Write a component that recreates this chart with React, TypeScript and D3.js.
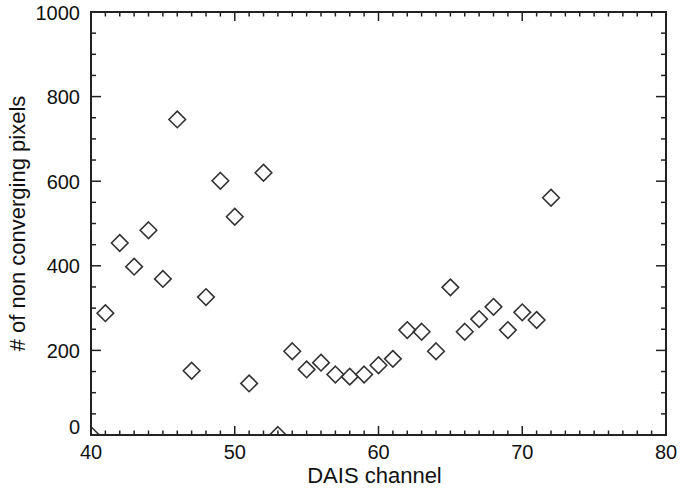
import React from "react";
import * as d3 from "d3";

const channels = [40, 41, 42, 43, 44, 45, 46, 47, 48, 49, 50, 51, 52, 53, 54, 55, 56, 57, 58, 59, 60, 61, 62, 63, 64, 65, 66, 67, 68, 69, 70, 71, 72];
const pixels = [0, 288, 454, 398, 484, 369, 746, 152, 326, 601, 516, 122, 620, 0, 198, 155, 171, 143, 138, 143, 165, 180, 248, 244, 198, 349, 244, 274, 303, 248, 290, 272, 561];
const xTicks = [40, 50, 60, 70, 80];
const yTicks = [0, 200, 400, 600, 800, 1000];

const W = 680, H = 491;
const L = 91, R = 666, T = 12, B = 435;

export default function App() {
  const x = d3.scaleLinear().domain([40, 80]).range([L, R]);
  const y = d3.scaleLinear().domain([0, 1000]).range([B, T]);
  const xMinor = d3.range(40, 81, 1).filter((v) => v % 10 !== 0);
  const yMinor = d3.range(0, 1001, 50).filter((v) => v % 200 !== 0);
  const font = "'Liberation Sans', Arial, sans-serif";
  const col = "#222";
  const s = 8.3;
  return (
    <svg width={W} height={H} style={{ position: "absolute", left: 0, top: 0, background: "#fff" }}>
      <defs>
        <clipPath id="plot">
          <rect x={L} y={T} width={R - L} height={B - T} />
        </clipPath>
      </defs>
      <g clipPath="url(#plot)">
        {channels.map((c, i) => {
          const cx = x(c), cy = y(pixels[i]);
          return (
            <path
              key={i}
              d={`M${cx},${cy - s}L${cx + s},${cy}L${cx},${cy + s}L${cx - s},${cy}Z`}
              fill="none"
              stroke="#333"
              strokeWidth={1.6}
            />
          );
        })}
      </g>
      <g stroke={col} strokeWidth={1.5}>
        {xTicks.map((v) => (
          <g key={"xt" + v}>
            <line x1={x(v)} x2={x(v)} y1={B} y2={B - 9} />
            <line x1={x(v)} x2={x(v)} y1={T} y2={T + 9} />
          </g>
        ))}
        {xMinor.map((v) => (
          <g key={"xm" + v}>
            <line x1={x(v)} x2={x(v)} y1={B} y2={B - 4.5} />
            <line x1={x(v)} x2={x(v)} y1={T} y2={T + 4.5} />
          </g>
        ))}
        {yTicks.map((v) => (
          <g key={"yt" + v}>
            <line x1={L} x2={L + 10} y1={y(v)} y2={y(v)} />
            <line x1={R} x2={R - 10} y1={y(v)} y2={y(v)} />
          </g>
        ))}
        {yMinor.map((v) => (
          <g key={"ym" + v}>
            <line x1={L} x2={L + 5} y1={y(v)} y2={y(v)} />
            <line x1={R} x2={R - 5} y1={y(v)} y2={y(v)} />
          </g>
        ))}
      </g>
      <rect x={L} y={T} width={R - L} height={B - T} fill="none" stroke={col} strokeWidth={2} />
      <g fontFamily={font} fill="#111">
        {xTicks.map((v) => (
          <text key={"xl" + v} x={x(v)} y={459} fontSize={20} textAnchor="middle">{v}</text>
        ))}
        {yTicks.map((v) => (
          <text key={"yl" + v} x={80} y={v === 0 ? 434 : y(v) + 7.5} fontSize={20} textAnchor="end">{v}</text>
        ))}
        <text x={(L + R) / 2 - 4} y={483} fontSize={22} textAnchor="middle">DAIS channel</text>
        <text transform={`translate(24.5,${(T + B) / 2}) rotate(-90)`} fontSize={22} textAnchor="middle">
          # of non converging pixels
        </text>
      </g>
    </svg>
  );
}
